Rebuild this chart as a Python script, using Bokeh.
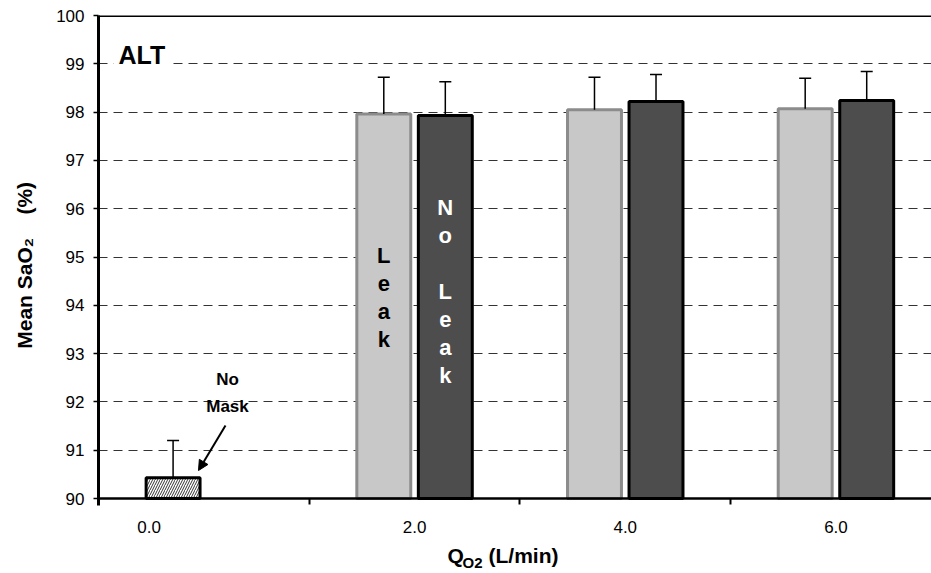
from bokeh.plotting import figure
from bokeh.models import (FixedTicker, CustomJSTickFormatter, Label, Span, Arrow,
                          NormalHead, Range1d)
from bokeh.embed import file_html
from bokeh.resources import INLINE

# ---------------- data ----------------
categories = ["0.0", "2.0", "4.0", "6.0"]          # Q_O2 (L/min)
leak_mean = [97.96, 98.05, 98.07]                   # at 2.0, 4.0, 6.0
leak_sd = [0.76, 0.67, 0.63]
noleak_mean = [97.93, 98.22, 98.24]                 # at 2.0, 4.0, 6.0
noleak_sd = [0.70, 0.56, 0.60]
nomask_mean = [90.43]                               # at 0.0
nomask_sd = [0.77]
y_ticks = list(range(90, 101))

FONT = "Liberation Sans"
PX = 210.7      # pixels per category
PY = 48.3       # pixels per % unit
BAR_W = 0.256
OFF = 0.146
NB = "\u00a0"


def dx(px):
    return (px - 98) / PX - 0.5


def dy(py):
    return 90 + (498 - py) / PY


def base(py, fs):
    # y for a text whose alphabetic baseline should sit at pixel row py
    return dy(py - 0.358 * fs)


p = figure(width=931, height=573, output_backend="svg", toolbar_location=None,
           x_range=Range1d(-0.5, -0.5 + 833 / PX),
           y_range=Range1d(90 - 75 / PY, 100),
           min_border_left=98, min_border_right=0, min_border_top=15,
           min_border_bottom=0)
p.outline_line_color = None
p.background_fill_color = "white"
p.border_fill_color = "white"

# grid
p.xgrid.grid_line_color = None
p.ygrid.ticker = FixedTicker(ticks=y_ticks)
p.ygrid.grid_line_color = "#333333"
p.ygrid.grid_line_dash = "9 6"
p.ygrid.grid_line_width = 1

# y axis
p.yaxis.ticker = FixedTicker(ticks=y_ticks, minor_ticks=[])
p.yaxis.bounds = (89.86, 100)
p.yaxis.axis_line_width = 3
p.yaxis.axis_line_color = "black"
p.yaxis.major_tick_out = 5
p.yaxis.major_tick_in = 0
p.yaxis.major_tick_line_width = 1.5
p.yaxis.minor_tick_line_color = None
p.yaxis.major_label_text_font = FONT
p.yaxis.major_label_text_font_size = "17px"
p.yaxis.major_label_text_color = "black"
p.yaxis.major_label_standoff = 9
p.yaxis.axis_label = NB * 10 + "Mean SaO\u2082" + NB * 4 + "(%)"
p.yaxis.axis_label_text_font = FONT
p.yaxis.axis_label_text_font_size = "21px"
p.yaxis.axis_label_text_font_style = "bold"
p.yaxis.axis_label_text_color = "black"
p.yaxis.axis_label_standoff = 17

# x axis (fixed at the bottom of the value range)
label_pos = [-0.26, 1.0, 2.0, 3.0]
p.xaxis.fixed_location = 90
p.xaxis.ticker = FixedTicker(ticks=label_pos, minor_ticks=[-0.5, 0.5, 1.5, 2.5])
p.xaxis.formatter = CustomJSTickFormatter(args=dict(labels=categories),
                                          code="return labels[index];")
p.xaxis.axis_line_width = 2.5
p.xaxis.axis_line_color = "black"
p.xaxis.major_tick_line_color = None
p.xaxis.major_tick_out = 0
p.xaxis.major_tick_in = 0
p.xaxis.minor_tick_out = 6
p.xaxis.minor_tick_in = 0
p.xaxis.minor_tick_line_width = 2
p.xaxis.minor_tick_line_color = "black"
p.xaxis.major_label_text_font = FONT
p.xaxis.major_label_text_font_size = "17px"
p.xaxis.major_label_text_color = "black"
p.xaxis.major_label_standoff = 16

# top border
p.add_layout(Span(location=100, dimension="width", line_color="black", line_width=3))

# bars
xs_leak = [i - OFF for i in range(1, 4)]
xs_noleak = [i + OFF for i in range(1, 4)]
xs_nomask = [0 - OFF]

p.vbar(x=xs_leak, top=leak_mean, bottom=90, width=BAR_W,
       fill_color="#C8C8C8", line_color="#8C8C8C", line_width=3)
p.vbar(x=xs_noleak, top=noleak_mean, bottom=90, width=BAR_W,
       fill_color="#4D4D4D", line_color="black", line_width=3)
p.vbar(x=xs_nomask, top=nomask_mean, bottom=90, width=BAR_W,
       fill_color="white", line_color="black", line_width=3,
       hatch_pattern="/", hatch_color="#333333", hatch_scale=5, hatch_weight=1)

# error bars (upper only)
CAP = 0.0285
for xs, m, s in ((xs_leak, leak_mean, leak_sd), (xs_noleak, noleak_mean, noleak_sd),
                 (xs_nomask, nomask_mean, nomask_sd)):
    tops = [a + b for a, b in zip(m, s)]
    p.segment(x0=xs, y0=m, x1=xs, y1=tops, line_color="black", line_width=1.5)
    p.segment(x0=[x - CAP for x in xs], y0=tops, x1=[x + CAP for x in xs], y1=tops,
              line_color="black", line_width=1.5)

# annotations
p.add_layout(Label(x=dx(113), y=dy(54), text="ALT", text_font=FONT,
                   text_font_size="25px", text_font_style="bold", text_color="black",
                   text_baseline="middle", text_align="left",
                   background_fill_color="white", padding=5))

p.add_layout(Label(x=dx(227), y=base(385, 17), text="No", text_font=FONT,
                   text_font_size="17px", text_font_style="bold", text_color="black",
                   text_align="center", text_baseline="alphabetic"))
p.add_layout(Label(x=dx(227), y=base(412, 17), text="Mask", text_font=FONT,
                   text_font_size="17px", text_font_style="bold", text_color="black",
                   text_align="center", text_baseline="alphabetic"))
p.add_layout(Arrow(end=NormalHead(size=10, fill_color="black", line_color="black"),
                   x_start=dx(225), y_start=dy(425), x_end=dx(198), y_end=dy(470),
                   line_color="black", line_width=2))

# vertical in-bar words
for i, ch in enumerate("Leak"):
    p.add_layout(Label(x=xs_leak[0], y=base(263 + 28 * i, 22), text=ch, text_font=FONT,
                       text_font_size="22px", text_font_style="bold", text_color="black",
                       text_align="center", text_baseline="alphabetic"))
for i, ch in enumerate("No Leak"):
    if ch == " ":
        continue
    p.add_layout(Label(x=xs_noleak[0], y=base(215 + 28 * i, 22), text=ch, text_font=FONT,
                       text_font_size="22px", text_font_style="bold", text_color="white",
                       text_align="center", text_baseline="alphabetic"))

# x-axis title with subscript
p.add_layout(Label(x=dx(447), y=base(563, 21), text="Q", text_font=FONT,
                   text_font_size="21px", text_font_style="bold", text_color="black",
                   text_align="left", text_baseline="alphabetic"))
p.add_layout(Label(x=dx(462), y=base(567, 15), text="O2", text_font=FONT,
                   text_font_size="15px", text_font_style="bold", text_color="black",
                   text_align="left", text_baseline="alphabetic"))
p.add_layout(Label(x=dx(488), y=base(563, 21), text="(L/min)", text_font=FONT,
                   text_font_size="21px", text_font_style="bold", text_color="black",
                   text_align="left", text_baseline="alphabetic"))

open("out.html", "w").write(file_html(p, INLINE))
